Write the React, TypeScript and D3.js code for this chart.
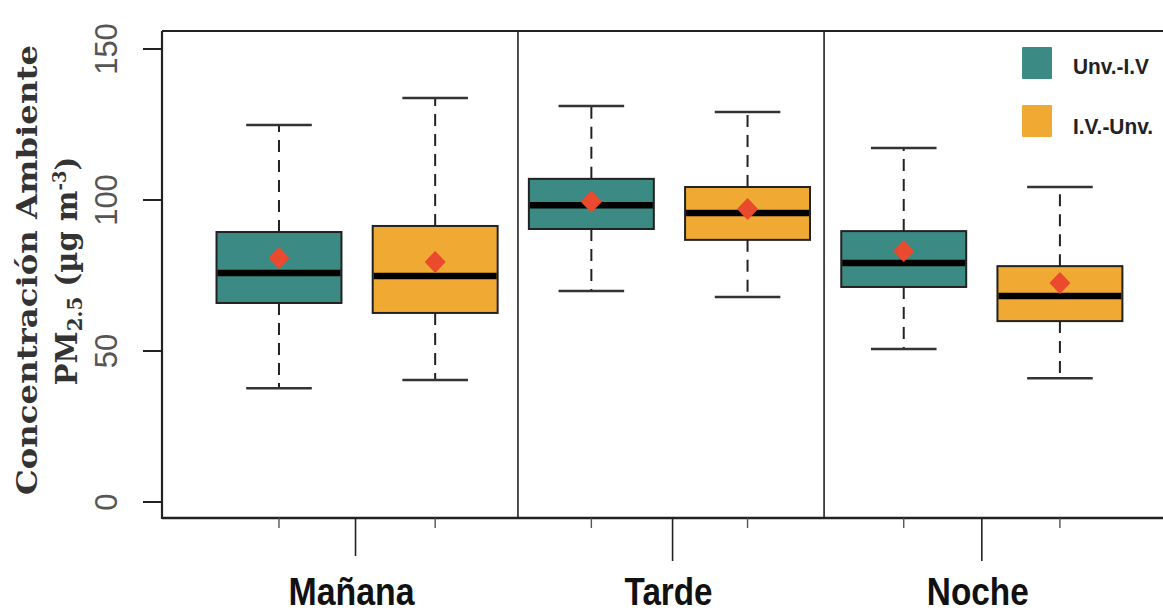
import React from "react";
import * as d3 from "d3";

const groups = ["Mañana", "Tarde", "Noche"];
const seriesNames = ["Unv.-I.V", "I.V.-Unv."];
const seriesColors = ["#3b8a83", "#f0aa33"];
// boxes in order: Mañana Unv, Mañana IV, Tarde Unv, Tarde IV, Noche Unv, Noche IV
const boxSeries = [0, 1, 0, 1, 0, 1];
const whiskerLow = [37.7, 40.4, 69.9, 67.9, 50.7, 41.0];
const q1 = [65.9, 62.6, 90.4, 86.8, 71.2, 59.9];
const median = [75.8, 74.8, 98.3, 95.7, 79.1, 68.2];
const q3 = [89.4, 91.4, 107.0, 104.3, 89.7, 78.1];
const whiskerHigh = [124.8, 133.8, 131.1, 129.1, 117.2, 104.3];
const means = [80.8, 79.5, 99.4, 97.0, 83.1, 72.5];
const yTicks = [0, 50, 100, 150];
const dividers = [2.53, 4.49];
const groupTickPos = [1.49, 3.52, 5.5];
const groupLabelWidths = [126, 88, 102];

const W = 1163;
const H = 612;

export default function App() {
  const x = d3.scaleLinear().domain([0.251, 6.66]).range([162, 1163]);
  const y = d3.scaleLinear().domain([0, 150]).range([502, 49]);
  const top = 31;
  const bottom = 518;
  const left = 162;
  const unit = x(2) - x(1);
  const boxW = unit * 0.8;
  const capW = unit * 0.42;
  const diamondPath = d3.line()([[0, -10], [9.5, 0], [0, 10], [-9.5, 0]]) + "Z";

  return (
    <svg
      width={W}
      height={H}
      style={{ position: "absolute", left: 0, top: 0, background: "#fff" }}
    >
      {/* dividers */}
      {dividers.map((d, i) => (
        <line key={"dv" + i} x1={x(d)} x2={x(d)} y1={top} y2={bottom} stroke="#222" strokeWidth={1.6} />
      ))}
      {/* boxes */}
      {median.map((m, i) => {
        const cx = x(i + 1);
        const col = seriesColors[boxSeries[i]];
        return (
          <g key={"b" + i}>
            <line x1={cx} x2={cx} y1={y(q3[i])} y2={y(whiskerHigh[i])} stroke="#222" strokeWidth={2} strokeDasharray="12,8" />
            <line x1={cx} x2={cx} y1={y(q1[i])} y2={y(whiskerLow[i])} stroke="#222" strokeWidth={2} strokeDasharray="12,8" />
            <line x1={cx - capW / 2} x2={cx + capW / 2} y1={y(whiskerHigh[i])} y2={y(whiskerHigh[i])} stroke="#333" strokeWidth={2.5} />
            <line x1={cx - capW / 2} x2={cx + capW / 2} y1={y(whiskerLow[i])} y2={y(whiskerLow[i])} stroke="#333" strokeWidth={2.5} />
            <rect x={cx - boxW / 2} y={y(q3[i])} width={boxW} height={y(q1[i]) - y(q3[i])} fill={col} stroke="#222" strokeWidth={2} />
            <line x1={cx - boxW / 2 + 1} x2={cx + boxW / 2 - 1} y1={y(m)} y2={y(m)} stroke="#000" strokeWidth={6.5} />
            <path d={diamondPath} transform={`translate(${cx},${y(means[i])})`} fill="#ea4b2f" stroke="#ea4b2f" strokeWidth={1.5} strokeLinejoin="round" />
          </g>
        );
      })}
      {/* frame */}
      <line x1={left} x2={W} y1={top} y2={top} stroke="#222" strokeWidth={2.2} />
      <line x1={left} x2={W} y1={bottom} y2={bottom} stroke="#222" strokeWidth={2.5} />
      <line x1={left} x2={left} y1={top} y2={bottom + 1} stroke="#222" strokeWidth={2.2} />
      {/* y ticks */}
      {yTicks.map((t) => (
        <g key={"yt" + t}>
          <line x1={143} x2={left} y1={y(t)} y2={y(t)} stroke="#222" strokeWidth={2} />
          <text
            transform={`translate(117,${y(t)}) rotate(-90)`}
            textAnchor="middle"
            fontFamily="'Liberation Sans', Arial, sans-serif"
            fontSize={31}
            fill="#555"
          >
            {t}
          </text>
        </g>
      ))}
      {/* x minor ticks */}
      {median.map((_, i) => (
        <line key={"xt" + i} x1={x(i + 1)} x2={x(i + 1)} y1={bottom} y2={bottom + 10} stroke="#555" strokeWidth={1.4} />
      ))}
      {/* group ticks & labels */}
      {groups.map((g, i) => (
        <g key={"g" + i}>
          <line x1={x(groupTickPos[i])} x2={x(groupTickPos[i])} y1={bottom} y2={bottom + (i === 0 ? 38 : 43)} stroke="#222" strokeWidth={1.6} />
          <text
            x={x(groupTickPos[i]) - 4}
            y={605}
            textAnchor="middle"
            fontFamily="'Liberation Sans Narrow', 'Arial Narrow', 'Liberation Sans', sans-serif"
            fontWeight="bold"
            fontSize={39}
            textLength={groupLabelWidths[i]}
            lengthAdjust="spacingAndGlyphs"
            fill="#111"
          >
            {g}
          </text>
        </g>
      ))}
      {/* legend */}
      {seriesNames.map((s, i) => (
        <g key={"lg" + i}>
          <rect x={1022} y={47 + i * 58} width={30} height={32} fill={seriesColors[i]} rx={1} />
          <text
            x={1073}
            y={74 + i * 60}
            fontFamily="'Liberation Sans Narrow', 'Arial Narrow', 'Liberation Sans', sans-serif"
            fontWeight="bold"
            fontSize={22}
            textLength={i === 0 ? 76 : 80}
            lengthAdjust="spacingAndGlyphs"
            fill="#222"
          >
            {s}
          </text>
        </g>
      ))}
      {/* y title */}
      <text
        transform="translate(37,270) rotate(-90)"
        textAnchor="middle"
        fontFamily="'DejaVu Serif', serif"
        fontWeight="bold"
        fontSize={27}
        textLength={450}
        lengthAdjust="spacingAndGlyphs"
        fill="#333"
      >
        Concentración Ambiente
      </text>
      <text
        transform="translate(77,271) rotate(-90)"
        textAnchor="middle"
        fontFamily="'DejaVu Serif', serif"
        fontWeight="bold"
        fontSize={29}
        fill="#333"
      >
        PM
        <tspan fontSize={20} dy={5}>2.5</tspan>
        <tspan dy={-5}> (µg m</tspan>
        <tspan fontSize={18} dy={-11}>-3</tspan>
        <tspan dy={11}>)</tspan>
      </text>
    </svg>
  );
}
